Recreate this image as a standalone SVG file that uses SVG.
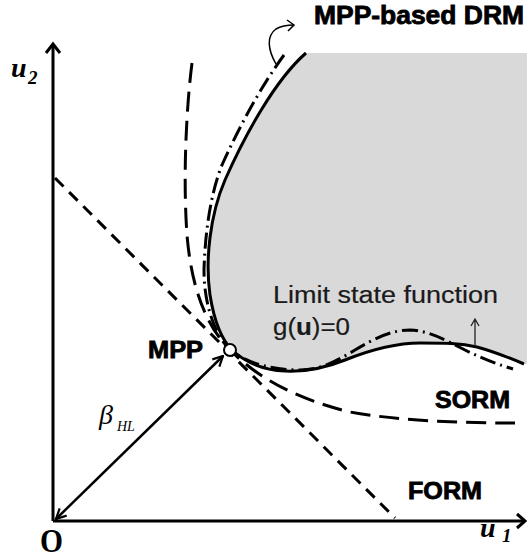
<svg xmlns="http://www.w3.org/2000/svg" width="527" height="559" viewBox="0 0 527 559">
<style>
.axis{stroke:#000;stroke-width:3;fill:none}
.curve{stroke:#000;stroke-width:3;fill:none}
.lbl{font-family:"Liberation Sans","Open Sans",sans-serif;font-weight:bold;fill:#000;stroke:#000;stroke-width:0.8}
.math{font-family:"Liberation Serif","DejaVu Serif",serif;font-style:italic;font-weight:bold;fill:#000}
.greek{font-family:"Liberation Serif","DejaVu Serif",serif;font-style:italic;font-weight:normal;fill:#000}
.note{font-family:"Liberation Sans","Open Sans",sans-serif;fill:#1a1a1a;stroke:#1a1a1a;stroke-width:0.2}
</style>
<defs>
<marker id="vhead" viewBox="0 0 12 12" refX="11" refY="6" markerWidth="12" markerHeight="12" markerUnits="userSpaceOnUse" orient="auto-start-reverse">
<path d="M1,1 L11,6 L1,11" fill="none" stroke="#000" stroke-width="2.2"/>
</marker>
</defs>
<rect width="527" height="559" fill="#fff"/>
<g id="failure-region">
<path d="M306,53 C 275,80 245,135 225,180 C 210,215 205,260 210,295 C 214,320 222,340 232,350 C 245,362 262,370 285,371 C 305,372 325,368 345,360 C 370,350 395,343 420,343 C 445,343 460,343 477,347 C 495,352 510,358 524,364 L527,364 L527,53 Z" fill="#d9d9d9"/>
</g>
<g id="axes">
<line class="axis" x1="53" y1="521" x2="53" y2="44"/>
<path class="axis" d="M46,53 L53,44 L60,53"/>
<line class="axis" x1="53" y1="521" x2="525" y2="521"/>
<path class="axis" d="M517,514 L525,521 L517,528"/>
</g>
<g id="connectors">
<path id="form" class="curve" d="M55,178 L395,518" stroke-dasharray="12 8"/>
<path id="sorm" class="curve" d="M192,63 C 186,110 183,180 187,235 C 191,285 205,325 230,350 C 260,380 300,400 350,412 C 400,421 460,423 515,423" stroke-dasharray="20 9"/>
<path id="drm" class="curve" d="M284,55 C 262,85 240,125 222,165 C 210,195 205,235 204,270 C 204,305 215,335 230,350 C 250,365 275,370 300,370 C 320,370 335,362 355,350 C 375,338 392,330 410,330 C 430,331 445,340 465,350 C 485,360 500,365 513,369" stroke-dasharray="16 5 2 5"/>
<path id="lsf" class="curve" d="M306,53 C 275,80 245,135 225,180 C 210,215 205,260 210,295 C 214,320 222,340 232,350 C 245,362 262,370 285,371 C 305,372 325,368 345,360 C 370,350 395,343 420,343 C 445,343 460,343 477,347 C 495,352 510,358 524,364"/>
<line id="beta" x1="56" y1="519" x2="223" y2="356" stroke="#000" stroke-width="2.5" marker-start="url(#vhead)" marker-end="url(#vhead)"/>
<path d="M276,64 C 268,50 266,36 276,29 C 281,26 287,25 294,25" fill="none" stroke="#000" stroke-width="1.5"/>
<path d="M287,20 L294,25 L288,31" fill="none" stroke="#000" stroke-width="1.5"/>
<path d="M475,346 L475,319 M471,326 L475,319 L479,326" fill="none" stroke="#222" stroke-width="1.3"/>
</g>
<g id="mpp">
<circle cx="230" cy="350" r="6" fill="#fff" stroke="#000" stroke-width="2"/>
<text class="lbl" x="148" y="358" font-size="23" textLength="55" lengthAdjust="spacingAndGlyphs">MPP</text>
</g>
<g id="labels">
<text class="lbl" x="314" y="24" font-size="25" textLength="210" lengthAdjust="spacingAndGlyphs">MPP-based DRM</text>
<text class="note" x="273" y="303" font-size="23" textLength="225" lengthAdjust="spacingAndGlyphs">Limit state function</text>
<text class="note" x="273" y="335" font-size="23" textLength="77" lengthAdjust="spacingAndGlyphs">g(<tspan font-weight="bold">u</tspan>)=0</text>
<text class="lbl" x="435" y="408" font-size="23" textLength="75" lengthAdjust="spacingAndGlyphs">SORM</text>
<text class="lbl" x="408" y="499" font-size="23" textLength="74" lengthAdjust="spacingAndGlyphs">FORM</text>
<text class="greek" x="99" y="424" font-size="28">β</text>
<text class="greek" x="117" y="431" font-size="14">HL</text>
<text class="math" x="11" y="77" font-size="28">u</text>
<text class="math" x="28" y="84" font-size="19">2</text>
<text class="math" x="480" y="537" font-size="28">u</text>
<text class="math" x="502" y="542" font-size="19">1</text>
<text x="40" y="552" font-family="Liberation Serif,serif" font-weight="bold" font-size="34" textLength="23" lengthAdjust="spacingAndGlyphs">O</text>
</g>
</svg>
